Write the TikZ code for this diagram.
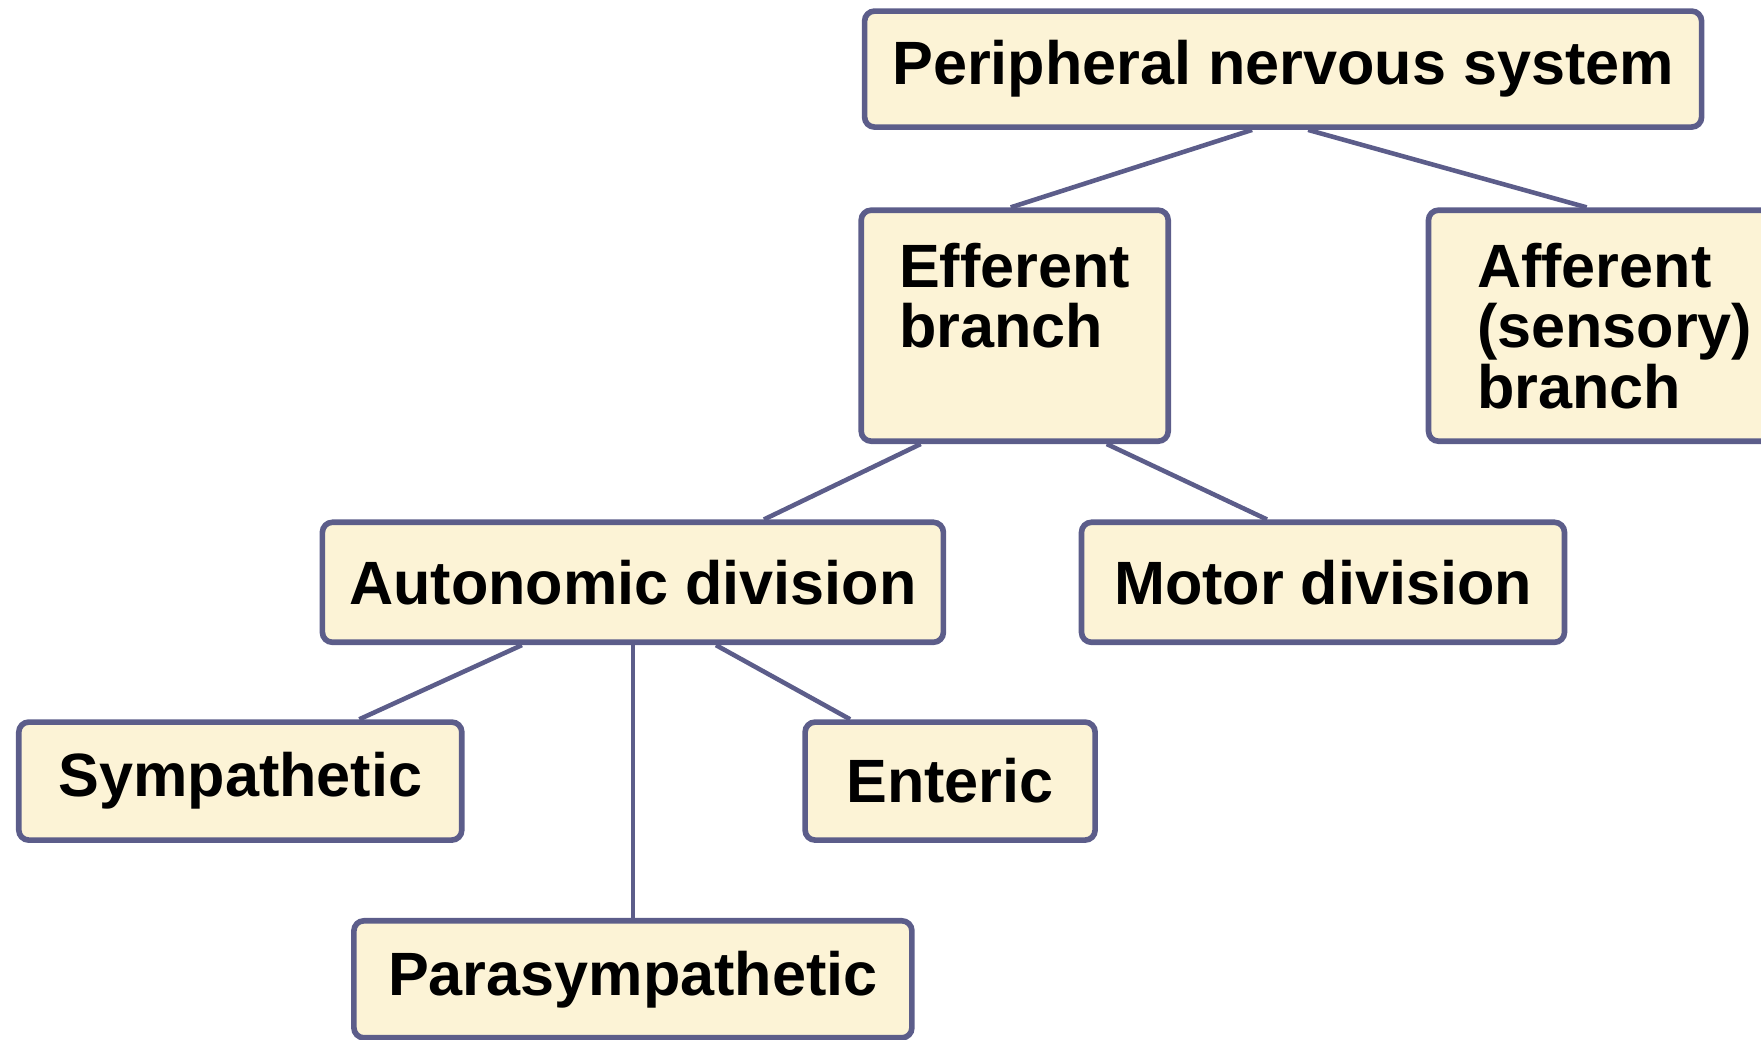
\documentclass[tikz,border=0pt]{standalone}
\usepackage{fontspec}
\setmainfont{Liberation Sans}
\usepackage{tikz}

\definecolor{boxfill}{RGB}{252,243,214}
\definecolor{boxline}{RGB}{92,93,138}

\begin{document}
\begin{tikzpicture}[
	box/.style={draw=boxline, fill=boxfill, line width=1.6pt, rounded corners=0.1cm,
		font=\bfseries\fontsize{17.4}{17.2}\selectfont, inner sep=0pt, minimum height=1.18cm},
	link/.style={draw=boxline, line width=1.3pt}
	]

	\useasboundingbox (0,0) rectangle (17.61,-10.40);

	\node[box, minimum width=8.37cm, minimum height=1.16cm] (pns) at (12.831,-0.691) {Peripheral nervous system};

	\node[box, minimum width=3.07cm, minimum height=2.31cm, align=left] (eff) at (10.147,-3.257) {Efferent\\branch\\\mbox{}};
	\node[box, minimum width=3.77cm, minimum height=2.31cm, align=left, text width=2.8cm, inner xsep=0.48cm] (aff) at (16.170,-3.257) {Afferent\\(sensory)\\branch};

	\node[box, minimum width=6.21cm, minimum height=1.2cm] (auto) at (6.329,-5.823) {Autonomic division};
	\node[box, minimum width=4.83cm, minimum height=1.2cm] (motor) at (13.230,-5.823) {Motor division};

	\node[box, minimum width=4.43cm] (symp) at (2.403,-7.811) {Sympathetic};
	\node[box, minimum width=2.9cm] (ent) at (9.501,-7.811) {Enteric};
	\node[box, minimum width=5.58cm, minimum height=1.17cm] (para) at (6.329,-9.793) {Parasympathetic};

	\draw[link] ([xshift=-0.31cm]pns.south) -- ([xshift=-0.04cm]eff.north);
	\draw[link] ([xshift=0.25cm]pns.south) -- ([xshift=1.61cm]aff.north west);

	\draw[link] ([xshift=-0.94cm]eff.south) -- ([xshift=1.31cm]auto.north);
	\draw[link] ([xshift=0.92cm]eff.south) -- ([xshift=-0.56cm]motor.north);

	\draw[link] ([xshift=-1.11cm]auto.south) -- ([xshift=1.19cm]symp.north);
	\draw[link] (auto.south) -- (para.north);
	\draw[link] ([xshift=0.83cm]auto.south) -- ([xshift=-1.0cm]ent.north);
    \end{tikzpicture}
\end{document}
